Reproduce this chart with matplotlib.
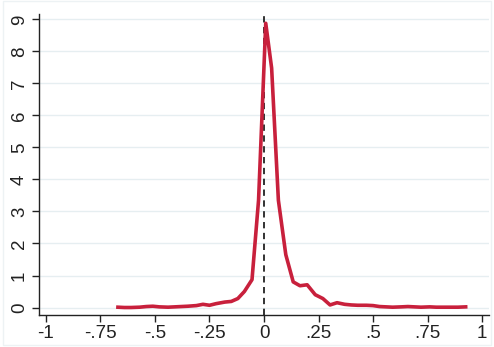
import matplotlib.pyplot as plt
from matplotlib.patches import Rectangle

plt.rcParams['font.family'] = ['Liberation Sans', 'DejaVu Sans']

# density estimate
x_vals = [-0.67, -0.64, -0.61, -0.57, -0.54, -0.51, -0.48, -0.44, -0.41, -0.38,
          -0.35, -0.31, -0.28, -0.25, -0.22, -0.18, -0.15, -0.12, -0.09, -0.055,
          -0.025, 0.008, 0.035, 0.066, 0.10, 0.134, 0.165, 0.198, 0.235, 0.27,
          0.303, 0.335, 0.37, 0.40, 0.43, 0.47, 0.50, 0.53, 0.56, 0.59,
          0.63, 0.66, 0.69, 0.72, 0.76, 0.79, 0.82, 0.86, 0.89, 0.925]
density = [0.01, 0.0, 0.0, 0.01, 0.03, 0.04, 0.02, 0.01, 0.02, 0.03,
           0.04, 0.06, 0.10, 0.07, 0.12, 0.17, 0.19, 0.28, 0.50, 0.87,
           3.35, 8.88, 7.48, 3.35, 1.65, 0.80, 0.68, 0.71, 0.40, 0.28,
           0.08, 0.15, 0.10, 0.08, 0.07, 0.07, 0.06, 0.03, 0.02, 0.01,
           0.02, 0.03, 0.02, 0.01, 0.02, 0.01, 0.01, 0.01, 0.01, 0.02]

xticks = [-1, -0.75, -0.5, -0.25, 0, 0.25, 0.5, 0.75, 1]
xtick_labels = ['-1', '-.75', '-.5', '-.25', '0', '.25', '.5', '.75', '1']
yticks = [0, 1, 2, 3, 4, 5, 6, 7, 8, 9]

fig = plt.figure(figsize=(4.94, 3.47), dpi=100)
fig.patches.append(Rectangle((0.006, 0.006), 0.988, 0.99, transform=fig.transFigure,
                             fill=False, edgecolor='#edf2f4', linewidth=1))
ax = fig.add_axes([39/494, 32/347, 450/494, 301/347])

for yt in yticks:
    ax.axhline(yt, color='#e6eef1', linewidth=1, zorder=0)

ax.axvline(0, color='#222222', linestyle=(0, (3.5, 2.5)), linewidth=1.3, zorder=2)
ax.plot(x_vals, density, color='#c8203c', linewidth=2.6, solid_joinstyle='round', zorder=3)

ax.set_xlim(-1.032, 1.032)
ax.set_ylim(-0.234, 9.17)
ax.set_xticks(xticks)
ax.set_xticklabels(xtick_labels)
ax.set_yticks(yticks)
ax.set_yticklabels([str(v) for v in yticks], rotation=90, va='center')

for side in ['top', 'right']:
    ax.spines[side].set_visible(False)
for side in ['left', 'bottom']:
    ax.spines[side].set_color('#222222')
    ax.spines[side].set_linewidth(1)
ax.tick_params(axis='both', length=5, width=1, color='#222222', labelsize=13.5, labelcolor='#222222')
ax.tick_params(axis='x', pad=2)
ax.tick_params(axis='y', pad=3)

fig.savefig('out.png', dpi=100)
